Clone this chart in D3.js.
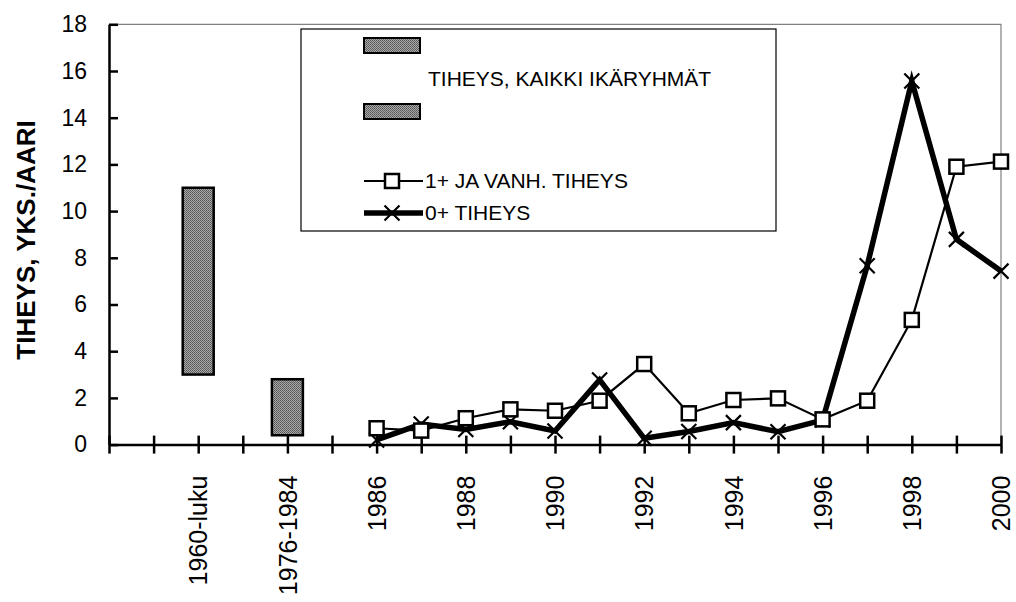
<!DOCTYPE html>
<html>
<head>
<meta charset="utf-8">
<script src="https://cdn.jsdelivr.net/npm/d3@7"></script>
<style>
  body { margin: 0; background: #fff; }
  svg { font-family: "Liberation Sans", Arial, sans-serif; }
</style>
</head>
<body>
<svg width="1016" height="602"></svg>
<script>
// category slots along the x axis (blank slots are spacers)
var categories = ["", " ", "1960-luku", "  ", "1976-1984", "   ",
  "1986", "1987", "1988", "1989", "1990", "1991", "1992", "1993",
  "1994", "1995", "1996", "1997", "1998", "1999", "2000"];

// floating bars: density, all age groups
var barCats = ["1960-luku", "1976-1984"];
var barLow = [3.0, 0.4];
var barHigh = [11.0, 2.8];

// yearly series
var years = ["1986", "1987", "1988", "1989", "1990", "1991", "1992", "1993",
  "1994", "1995", "1996", "1997", "1998", "1999", "2000"];
var adult = [0.70, 0.60, 1.13, 1.51, 1.45, 1.88, 3.45, 1.34, 1.91, 1.98, 1.08, 1.88, 5.34, 11.9, 12.12];
var young = [0.20, 0.88, 0.65, 0.98, 0.58, 2.77, 0.27, 0.56, 0.94, 0.55, 1.05, 7.66, 15.57, 8.79, 7.43];

var yTicks = [0, 2, 4, 6, 8, 10, 12, 14, 16, 18];

var pLeft = 109, pRight = 1001, pTop = 24.3, pBottom = 444.6;

const svg = d3.select("svg");

var x = d3.scalePoint().domain(categories).range([pLeft, pRight]);
var y = d3.scaleLinear().domain([0, 18]).range([pBottom, pTop]);

// gray stipple fill for the bars
var defs = svg.append("defs");
var pat = defs.append("pattern")
  .attr("id", "stip")
  .attr("width", 2).attr("height", 2)
  .attr("patternUnits", "userSpaceOnUse");
pat.append("rect").attr("width", 2).attr("height", 2).attr("fill", "#a8a8a8");
pat.append("rect").attr("width", 1).attr("height", 1).attr("fill", "#555");
pat.append("rect").attr("x", 1).attr("y", 1).attr("width", 1).attr("height", 1).attr("fill", "#666");

// plot frame (top and right)
svg.append("path")
  .attr("d", "M" + pLeft + "," + pTop + "H" + pRight + "V" + pBottom)
  .attr("fill", "none")
  .attr("stroke", "#808080")
  .attr("stroke-width", 1.2);

// y axis
var yAxis = svg.append("g")
  .attr("transform", "translate(" + pLeft + ",0)")
  .call(d3.axisLeft(y).tickValues(yTicks).tickSizeInner(-9).tickSizeOuter(0).tickPadding(22));
yAxis.select(".domain").attr("stroke", "#000").attr("stroke-width", 2.5);
yAxis.selectAll(".tick line").attr("stroke", "#000").attr("stroke-width", 2.5);
yAxis.selectAll(".tick text").attr("font-size", 23).attr("fill", "#000")
  .attr("font-family", "Liberation Sans, Arial, sans-serif");

// x axis
var xAxis = svg.append("g")
  .attr("transform", "translate(0," + pBottom + ")")
  .call(d3.axisBottom(x).tickSizeOuter(0).tickFormat(function (d, i) { return i % 2 === 0 ? d.trim() : ""; }));
xAxis.select(".domain").attr("stroke", "#000").attr("stroke-width", 2.5);
xAxis.selectAll(".tick line").attr("y1", -9).attr("y2", 9).attr("stroke", "#000").attr("stroke-width", 2.5);
xAxis.selectAll(".tick text")
  .attr("font-size", 25)
  .attr("fill", "#000")
  .attr("font-family", "Liberation Sans, Arial, sans-serif")
  .attr("text-anchor", "end")
  .attr("transform", "translate(0,31) rotate(-90)")
  .attr("y", 0).attr("x", 0)
  .attr("dy", "0.35em");

// y axis title
svg.append("text")
  .attr("transform", "translate(35,240) rotate(-90)")
  .attr("text-anchor", "middle")
  .attr("font-size", 26)
  .attr("font-weight", "bold")
  .text("TIHEYS, YKS./AARI");

// floating bars
var bw = 31;
svg.selectAll("rect.bar")
  .data(barCats)
  .enter().append("rect")
  .attr("class", "bar")
  .attr("x", function (d) { return x(d) - bw / 2; })
  .attr("y", function (d, i) { return y(barHigh[i]); })
  .attr("width", bw)
  .attr("height", function (d, i) { return y(barLow[i]) - y(barHigh[i]); })
  .attr("fill", "url(#stip)")
  .attr("stroke", "#000")
  .attr("stroke-width", 2.5);

// lines
var line = d3.line()
  .x(function (d) { return x(d[0]); })
  .y(function (d) { return y(d[1]); });

var adultPts = years.map(function (yr, i) { return [yr, adult[i]]; });
var youngPts = years.map(function (yr, i) { return [yr, young[i]]; });

svg.append("path")
  .attr("d", line(adultPts))
  .attr("fill", "none")
  .attr("stroke", "#000")
  .attr("stroke-width", 2.2);

svg.append("path")
  .attr("d", line(youngPts))
  .attr("fill", "none")
  .attr("stroke", "#000")
  .attr("stroke-width", 5.5);

function crossPath(cx, cy, r) {
  return "M" + (cx - r) + "," + (cy - r) + "L" + (cx + r) + "," + (cy + r) +
    "M" + (cx - r) + "," + (cy + r) + "L" + (cx + r) + "," + (cy - r);
}

svg.selectAll("path.xm")
  .data(youngPts)
  .enter().append("path")
  .attr("class", "xm")
  .attr("d", function (d) { return crossPath(x(d[0]), y(d[1]), 7.5); })
  .attr("stroke", "#000")
  .attr("stroke-width", 2.2);

var sq = 14;
svg.selectAll("rect.sq")
  .data(adultPts)
  .enter().append("rect")
  .attr("class", "sq")
  .attr("x", function (d) { return x(d[0]) - sq / 2; })
  .attr("y", function (d) { return y(d[1]) - sq / 2; })
  .attr("width", sq).attr("height", sq)
  .attr("fill", "#fff")
  .attr("stroke", "#000")
  .attr("stroke-width", 2.5);

// legend
var lg = svg.append("g");
lg.append("rect")
  .attr("x", 301).attr("y", 29).attr("width", 475).attr("height", 202)
  .attr("fill", "#fff").attr("stroke", "#000").attr("stroke-width", 1.2);

[38, 104].forEach(function (yy) {
  lg.append("rect")
    .attr("x", 364).attr("y", yy).attr("width", 56).attr("height", 15)
    .attr("fill", "url(#stip)").attr("stroke", "#000").attr("stroke-width", 2);
});
lg.append("text")
  .attr("x", 428).attr("y", 79).attr("dy", "0.35em")
  .attr("font-size", 21)
  .text("TIHEYS, KAIKKI IKÄRYHMÄT");

lg.append("line").attr("x1", 364).attr("x2", 423).attr("y1", 181).attr("y2", 181)
  .attr("stroke", "#000").attr("stroke-width", 2.2);
lg.append("rect").attr("x", 392 - sq / 2).attr("y", 181 - sq / 2).attr("width", sq).attr("height", sq)
  .attr("fill", "#fff").attr("stroke", "#000").attr("stroke-width", 2.5);
lg.append("text")
  .attr("x", 425).attr("y", 181).attr("dy", "0.35em")
  .attr("font-size", 21)
  .text("1+ JA VANH. TIHEYS");

lg.append("line").attr("x1", 364).attr("x2", 423).attr("y1", 213).attr("y2", 213)
  .attr("stroke", "#000").attr("stroke-width", 5.5);
lg.append("path").attr("d", crossPath(392, 213, 7.5))
  .attr("stroke", "#000").attr("stroke-width", 2.2);
lg.append("text")
  .attr("x", 425).attr("y", 213).attr("dy", "0.35em")
  .attr("font-size", 21)
  .text("0+ TIHEYS");
</script>
</body>
</html>
